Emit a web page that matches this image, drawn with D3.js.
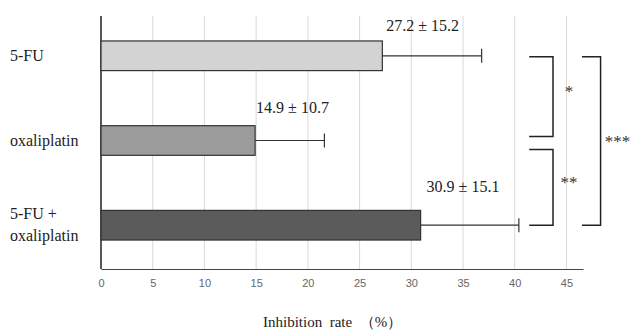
<!DOCTYPE html>
<html>
<head>
<meta charset="utf-8">
<script src="https://cdn.jsdelivr.net/npm/d3@7"></script>
<style>
  body { margin: 0; background: #fff; }
  svg { display: block; }
</style>
</head>
<body>
<script>
// data
const categories = ["5-FU", "oxaliplatin", "5-FU + oxaliplatin"];
const categoryLines = [["5-FU"], ["oxaliplatin"], ["5-FU +", "oxaliplatin"]];
const means = [27.2, 14.9, 30.9];
const errorEnds = [36.8, 21.6, 40.4];
const valueLabels = ["27.2 \u00b1 15.2", "14.9 \u00b1 10.7", "30.9 \u00b1 15.1"];
const barColors = ["#d3d3d3", "#9b9b9b", "#5b5b5b"];
const tickValues = [0, 5, 10, 15, 20, 25, 30, 35, 40, 45];
// significance brackets: [from category, to category, stars]
const sigPairs = [[0, 1, "*"], [1, 2, "**"], [0, 2, "***"]];

const width = 632, height = 330;
const serif = "'Liberation Serif', 'Times New Roman', serif";
const sans = "'Liberation Sans', Arial, sans-serif";

const svg = d3.select("body").append("svg")
  .attr("width", width)
  .attr("height", height);

const x = d3.scaleLinear().domain([0, 46.6]).range([101, 583]);
const y = d3.scaleBand().domain(categories).range([13, 268]).paddingInner(0.65).paddingOuter(0.33);

const axisTop = 16, axisBottom = 269;

// gridlines
svg.append("g")
  .selectAll("line")
  .data(tickValues.filter(d => d > 0))
  .join("line")
  .attr("x1", d => x(d)).attr("x2", d => x(d))
  .attr("y1", axisTop).attr("y2", axisBottom)
  .attr("stroke", "#d9d9d9")
  .attr("stroke-width", 1);

// x axis
const xAxis = svg.append("g")
  .attr("transform", `translate(0,${axisBottom})`)
  .call(d3.axisBottom(x).tickValues(tickValues).tickSize(0).tickPadding(10));
xAxis.select(".domain").attr("stroke", "#444").attr("stroke-width", 1.2);
xAxis.selectAll("text")
  .attr("font-family", sans)
  .attr("font-size", 11)
  .attr("fill", "#666");

// y axis line
svg.append("line")
  .attr("x1", x(0)).attr("x2", x(0))
  .attr("y1", axisTop).attr("y2", axisBottom)
  .attr("stroke", "#222").attr("stroke-width", 1.5);

// bars
svg.append("g")
  .selectAll("rect")
  .data(categories)
  .join("rect")
  .attr("x", x(0))
  .attr("y", d => y(d))
  .attr("width", (d, i) => x(means[i]) - x(0))
  .attr("height", y.bandwidth())
  .attr("fill", (d, i) => barColors[i])
  .attr("stroke", "#333")
  .attr("stroke-width", 1.2);

// error bars
const err = svg.append("g").attr("stroke", "#333").attr("stroke-width", 1.2);
categories.forEach((c, i) => {
  const cy = y(c) + y.bandwidth() / 2;
  err.append("line")
    .attr("x1", x(means[i])).attr("x2", x(errorEnds[i]))
    .attr("y1", cy).attr("y2", cy);
  err.append("line")
    .attr("x1", x(errorEnds[i])).attr("x2", x(errorEnds[i]))
    .attr("y1", cy - 7).attr("y2", cy + 7);
});

// value labels
const labelShift = [[4, -15], [1, -18], [6, -23]];
svg.append("g")
  .selectAll("text")
  .data(valueLabels)
  .join("text")
  .attr("x", (d, i) => x(means[i]) + labelShift[i][0])
  .attr("y", (d, i) => y(categories[i]) + labelShift[i][1] + 5)
  .attr("font-family", serif)
  .attr("font-size", 16)
  .attr("fill", "#222")
  .text(d => d);

// category labels
const catG = svg.append("g");
categories.forEach((c, i) => {
  const lines = categoryLines[i];
  const cy = y(c) + y.bandwidth() / 2;
  const t = catG.append("text")
    .attr("x", 10)
    .attr("font-family", serif)
    .attr("font-size", 16)
    .attr("fill", "#222");
  lines.forEach((l, j) => {
    t.append("tspan")
      .attr("x", 10)
      .attr("y", cy + 5 + (j - (lines.length - 1) / 2) * 22)
      .text(l);
  });
});

// significance brackets
const bracketX = [[41.4, 43.7], [41.4, 43.7], [46.5, 48.3]];
const bracketY = [[0, -4], [8, 0], [0, 0]];
const starShift = [0, 1, 6];
const sig = svg.append("g");
sigPairs.forEach(([a, b, s], i) => {
  const ya = y(categories[a]) + y.bandwidth() / 2 + 1 + bracketY[i][0];
  const yb = y(categories[b]) + y.bandwidth() / 2 + bracketY[i][1];
  const x0 = x(bracketX[i][0]), x1 = x(bracketX[i][1]);
  sig.append("path")
    .attr("d", `M${x0},${ya}H${x1}V${yb}H${x0}`)
    .attr("fill", "none")
    .attr("stroke", "#222")
    .attr("stroke-width", 1.5);
  sig.append("text")
    .attr("x", x1 + (s.length === 3 ? 17 : 16))
    .attr("y", (ya + yb) / 2 + starShift[i])
    .attr("text-anchor", "middle")
    .attr("font-family", serif)
    .attr("font-size", 17)
    .attr("fill", "#333")
    .text(s);
});

// axis title
svg.append("text")
  .attr("x", 263)
  .attr("y", 327)
  .attr("font-family", serif)
  .attr("font-size", 15)
  .attr("fill", "#222")
  .attr("xml:space", "preserve")
  .text("Inhibition  rate  \uff08%\uff09");
</script>
</body>
</html>
